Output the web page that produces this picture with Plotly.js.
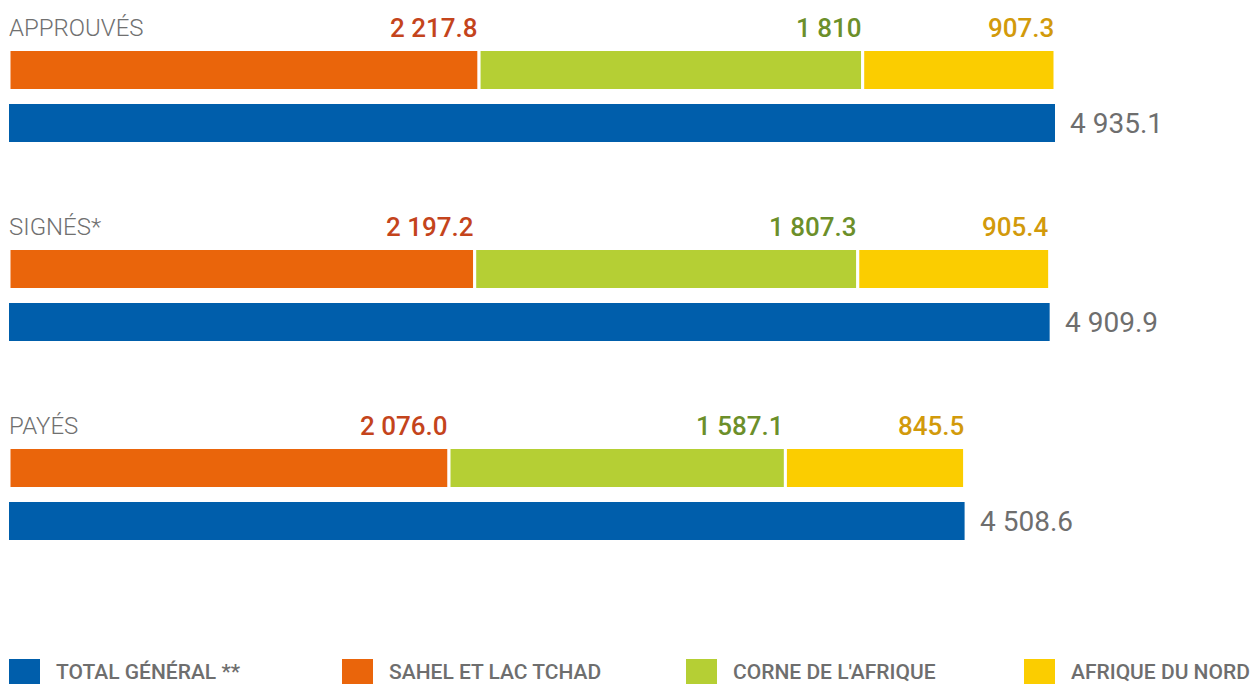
<!DOCTYPE html>
<html>
<head>
<meta charset="utf-8">
<script src="https://cdn.plot.ly/plotly-3.0.1.min.js"></script>
<style>html,body{margin:0;padding:0;background:#fff;}#chart{width:1257px;height:684px;}</style>
</head>
<body>
<div id="chart"></div>
<script>
// ---- Data ----
const categories = ['APPROUVÉS', 'SIGNÉS*', 'PAYÉS'];
const sahel = [2217.8, 2197.2, 2076.0];
const corne = [1810, 1807.3, 1587.1];
const nord = [907.3, 905.4, 845.5];
const total = [4935.1, 4909.9, 4508.6];
const sahelLabels = ['2 217.8', '2 197.2', '2 076.0'];
const corneLabels = ['1 810', '1 807.3', '1 587.1'];
const nordLabels = ['907.3', '905.4', '845.5'];
const totalLabels = ['4 935.1', '4 909.9', '4 508.6'];
const seriesNames = ['TOTAL GÉNÉRAL **', 'SAHEL ET LAC TCHAD', "CORNE DE L'AFRIQUE", 'AFRIQUE DU NORD'];

// ---- Styles / layout constants ----
const W = 1257, H = 684;
const colors = {total: '#005EAB', sahel: '#EA650B', corne: '#B5CF34', nord: '#FBCD00'};
const labelColors = {sahel: '#C4441C', corne: '#6C8F2A', nord: '#D29A0B', total: '#6E6E6E'};
const FONT = 'Roboto, "Open Sans", sans-serif';
const GROUP_TOP = 70, GROUP_STEP = 199, TOTAL_OFFSET = 53;
const stackY = categories.map((c, i) => GROUP_TOP + GROUP_STEP * i);
const totalY = stackY.map(y => y + TOTAL_OFFSET);
const LINE = 3;

function stackTrace(name, vals, base, color) {
  return {
    type: 'bar', orientation: 'h', name: name,
    x: vals, y: stackY, base: base,
    width: 38 + LINE,
    marker: {color: color, line: {color: '#ffffff', width: LINE}},
    hoverinfo: 'none', showlegend: false
  };
}
const zeros = categories.map(() => 0);
const base2 = sahel.slice();
const base3 = sahel.map((v, i) => v + corne[i]);

const traces = [
  stackTrace(seriesNames[1], sahel, zeros, colors.sahel),
  stackTrace(seriesNames[2], corne, base2, colors.corne),
  stackTrace(seriesNames[3], nord, base3, colors.nord),
  {
    type: 'bar', orientation: 'h', name: seriesNames[0],
    x: total, y: totalY, width: 38,
    marker: {color: colors.total, line: {width: 0}},
    hoverinfo: 'none', showlegend: false
  }
];

const annotations = [];
categories.forEach((c, i) => {
  const ly = stackY[i] - 42;
  annotations.push({x: 0, y: ly, xref: 'x', yref: 'y', text: c, showarrow: false, borderpad: 0,
    xanchor: 'left', yanchor: 'middle', xshift: -1, font: {family: FONT, size: 24, color: '#707070', weight: 300}});
  annotations.push({x: sahel[i], y: ly, xref: 'x', yref: 'y', text: sahelLabels[i], showarrow: false, borderpad: 0,
    xanchor: 'right', yanchor: 'middle', xshift: 0, font: {family: FONT, size: 26, color: labelColors.sahel, weight: 500}});
  annotations.push({x: base3[i], y: ly, xref: 'x', yref: 'y', text: corneLabels[i], showarrow: false, borderpad: 0,
    xanchor: 'right', yanchor: 'middle', xshift: 0, font: {family: FONT, size: 26, color: labelColors.corne, weight: 500}});
  annotations.push({x: base3[i] + nord[i], y: ly, xref: 'x', yref: 'y', text: nordLabels[i], showarrow: false, borderpad: 0,
    xanchor: 'right', yanchor: 'middle', xshift: 0, font: {family: FONT, size: 26, color: labelColors.nord, weight: 500}});
  annotations.push({x: total[i], y: totalY[i], xref: 'x', yref: 'y', text: totalLabels[i], showarrow: false, borderpad: 0,
    xanchor: 'left', yanchor: 'middle', xshift: 14, font: {family: FONT, size: 28, color: labelColors.total}});
});

// Legend (custom, bottom row)
const legendX = [9, 342, 686, 1024];
const legendColors = [colors.total, colors.sahel, colors.corne, colors.nord];
const shapes = [];
seriesNames.forEach((n, i) => {
  shapes.push({type: 'rect', xref: 'paper', yref: 'y', x0: legendX[i] / W, x1: (legendX[i] + 31) / W,
    y0: 659, y1: 686, fillcolor: legendColors[i], line: {width: 0}});
  annotations.push({x: (legendX[i] + 46) / W, y: 672, xref: 'paper', yref: 'y', text: n, showarrow: false, borderpad: 0,
    xanchor: 'left', yanchor: 'middle', font: {family: FONT, size: 21, color: '#6E6E6E', weight: 500}});
});

const PXPERUNIT = 1046 / total[0];
const layout = {
  width: W, height: H,
  margin: {l: 0, r: 0, t: 0, b: 0, pad: 0},
  paper_bgcolor: '#ffffff', plot_bgcolor: '#ffffff',
  barmode: 'overlay',
  xaxis: {range: [-9 / PXPERUNIT, (W - 9) / PXPERUNIT], visible: false, fixedrange: true},
  yaxis: {range: [H, 0], visible: false, fixedrange: true},
  showlegend: false,
  annotations: annotations,
  shapes: shapes
};

Plotly.newPlot('chart', traces, layout, {displayModeBar: false, staticPlot: true});
</script>
</body>
</html>
